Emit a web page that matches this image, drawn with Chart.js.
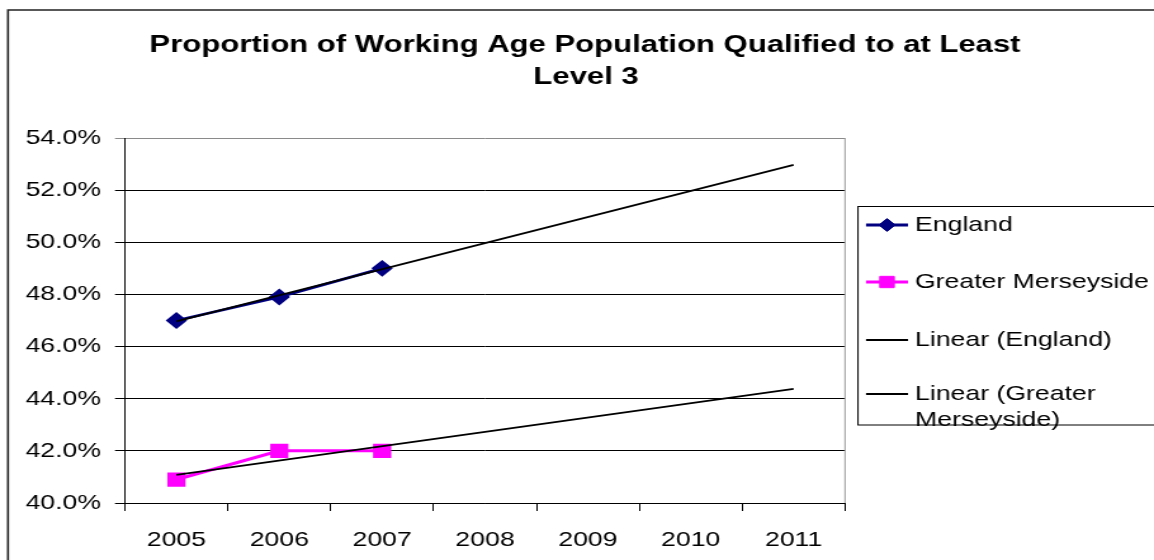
<!DOCTYPE html>
<html>
<head>
<meta charset="utf-8">
<script src="https://cdn.jsdelivr.net/npm/chart.js@4/dist/chart.umd.min.js"></script>
<style>
  html, body { margin: 0; padding: 0; background: #fff; }
  #wrap { width: 1154px; height: 560px; overflow: hidden; }
  /* the source picture is stretched wide, so the canvas is drawn narrower and scaled */
  #c { width: 1154px; height: 560px; }
</style>
</head>
<body>
<div id="wrap"><canvas id="c" width="910" height="560" style="width:1154px;height:560px"></canvas></div>
<script>
// data
const years = ["2005", "2006", "2007", "2008", "2009", "2010", "2011"];
const england = [47.0, 47.9, 49.0];
const merseyside = [40.9, 42.0, 42.0];
// trend line end points (2005 and 2011)
const trendYears = ["2005", "2011"];
const englandTrend = [46.97, 52.97];
const merseysideTrend = [41.08, 44.38];
const yTicks = [40, 42, 44, 46, 48, 50, 52, 54];
const titleLines = ["Proportion of Working Age Population Qualified to at Least", "Level 3"];

const SX = 1154 / 910;   // horizontal stretch
const rx = x => x / SX;  // picture x -> canvas x
const FONT = "'Liberation Sans', Arial, sans-serif";

// title, frame, plot border and legend box
const decor = {
  id: "decor",
  afterDraw(chart) {
    const ctx = chart.ctx;
    const a = chart.chartArea;
    ctx.save();

    // title (centred over the whole frame, not just the plot)
    ctx.fillStyle = "#000";
    ctx.font = "bold 24.5px " + FONT;
    ctx.textAlign = "center";
    ctx.textBaseline = "middle";
    ctx.fillText(titleLines[0], rx(585), 45);
    ctx.fillText(titleLines[1], rx(586), 77);

    // grey right edge of plot area
    ctx.strokeStyle = "#9a9a9a";
    ctx.lineWidth = 1;
    ctx.beginPath();
    ctx.moveTo(a.right, a.top);
    ctx.lineTo(a.right, a.bottom);
    ctx.stroke();

    // outer frame
    ctx.strokeStyle = "#222";
    ctx.lineWidth = 1.6;
    ctx.beginPath();
    ctx.moveTo(rx(8), 600);
    ctx.lineTo(rx(8), 10);
    ctx.lineTo(1000, 10);
    ctx.stroke();

    // legend box
    ctx.lineWidth = 1;
    ctx.strokeStyle = "#000";
    ctx.strokeRect(rx(858), 206.5, 400, 218.5);

    const items = [
      { ds: 0, y: [225] },
      { ds: 1, y: [282] },
      { ds: 2, y: [340] },
      { ds: 3, y: [394, 420] }
    ];
    ctx.font = "21px " + FONT;
    ctx.textBaseline = "middle";
    ctx.textAlign = "left";
    items.forEach(it => {
      const ds = chart.data.datasets[it.ds];
      const y = it.y[0];
      ctx.strokeStyle = ds.borderColor;
      ctx.lineWidth = ds.borderWidth;
      ctx.beginPath();
      ctx.moveTo(rx(866), y);
      ctx.lineTo(rx(908), y);
      ctx.stroke();
      if (ds.pointRadius > 0) {
        ctx.fillStyle = ds.pointBackgroundColor;
        ctx.strokeStyle = ds.pointBorderColor;
        ctx.lineWidth = 1;
        Chart.helpers.drawPoint(ctx, {
          pointStyle: ds.pointStyle,
          radius: ds.pointRadius,
          borderWidth: 1,
          rotation: 0
        }, rx(887), y);
      }
      ctx.fillStyle = "#000";
      const lines = Array.isArray(ds.label) ? ds.label : [ds.label];
      lines.forEach((t, i) => ctx.fillText(t, rx(915), it.y[i]));
    });
    ctx.restore();
  }
};

new Chart(document.getElementById("c"), {
  type: "line",
  data: {
    labels: years,
    datasets: [
      {
        label: "England",
        data: england,
        borderColor: "#000080",
        backgroundColor: "#000080",
        borderWidth: 2.8,
        pointStyle: "rectRot",
        pointRadius: 6.5,
        pointBackgroundColor: "#000080",
        pointBorderColor: "#000080",
        tension: 0,
        order: 2
      },
      {
        label: "Greater Merseyside",
        data: merseyside,
        borderColor: "#ff00ff",
        backgroundColor: "#ff00ff",
        borderWidth: 3,
        pointStyle: "rect",
        pointRadius: 8,
        pointBackgroundColor: "#ff00ff",
        pointBorderColor: "#ff00ff",
        tension: 0,
        order: 2
      },
      {
        label: "Linear (England)",
        data: trendYears.map((x, i) => ({ x, y: englandTrend[i] })),
        borderColor: "#000",
        borderWidth: 1.8,
        pointRadius: 0,
        order: 1
      },
      {
        label: ["Linear (Greater", "Merseyside)"],
        data: trendYears.map((x, i) => ({ x, y: merseysideTrend[i] })),
        borderColor: "#000",
        borderWidth: 1.8,
        pointRadius: 0,
        order: 1
      }
    ]
  },
  options: {
    responsive: false,
    animation: false,
    layout: { padding: { left: 0, right: 910 - rx(845), top: 138, bottom: 0 } },
    plugins: {
      legend: { display: false },
      tooltip: { enabled: false },
      title: { display: false }
    },
    scales: {
      x: {
        offset: true,
        grid: { offset: true, drawOnChartArea: false, drawTicks: true, tickLength: 8, color: "#000" },
        border: { color: "#000", width: 1 },
        ticks: { color: "#000", padding: 17, maxRotation: 0, font: { family: FONT, size: 21 } },
        afterFit(s) { s.height = 57; }
      },
      y: {
        min: 40,
        max: 54,
        afterBuildTicks(s) { s.ticks = yTicks.map(v => ({ value: v })); },
        grid: {
          color: c => (c.tick && c.tick.value === 54 ? "#8a8a8a" : "#000"),
          tickLength: rx(10),
          lineWidth: 1
        },
        border: { color: "#000", width: 1 },
        ticks: {
          color: "#000",
          padding: 11,
          font: { family: FONT, size: 21 },
          callback: v => v.toFixed(1) + "%"
        },
        afterFit(s) { s.width = rx(125); }
      }
    }
  },
  plugins: [decor]
});
</script>
</body>
</html>
